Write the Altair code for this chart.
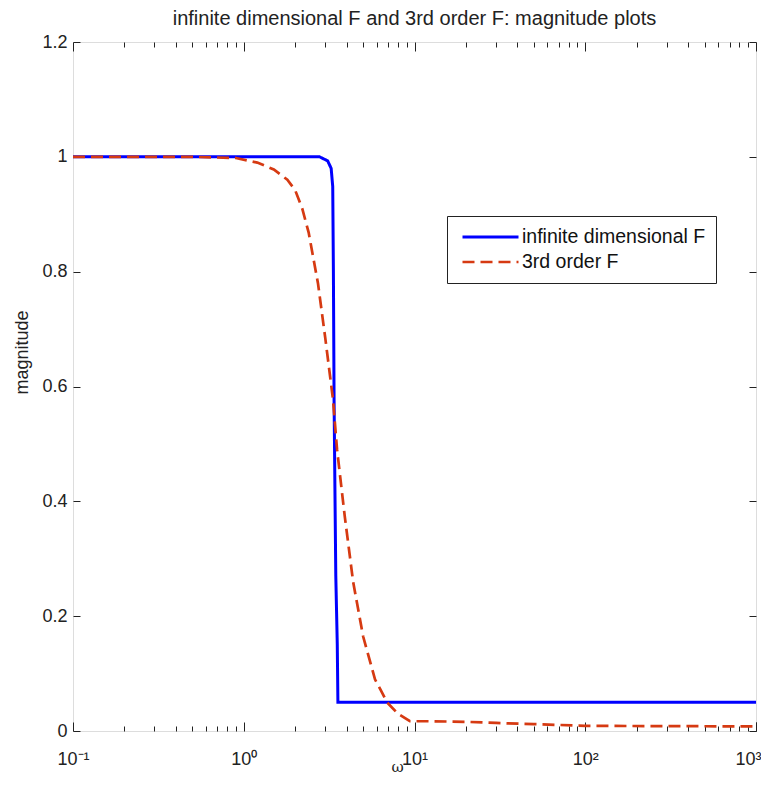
import altair as alt
import pandas as pd

# ---------------- data ----------------
series_names = ["infinite dimensional F", "3rd order F"]

blue_w = [0.1, 1.0, 2.78, 3.1, 3.25, 3.32, 3.35, 3.38, 3.42, 3.46, 3.53, 3.56, 10, 100, 1000]
blue_m = [1.0, 1.0, 1.0, 0.993, 0.98, 0.948, 0.80, 0.58, 0.42, 0.27, 0.15, 0.05, 0.05, 0.05, 0.05]

red_w = [0.1, 0.5, 0.9, 1.2, 1.5, 1.8, 2.0, 2.2, 2.4, 2.72, 3.0, 3.33, 3.52, 3.9, 4.37, 5.0,
         5.87, 6.3, 6.9, 8.0, 9.4, 12, 20, 30, 50, 100, 300, 1000]
red_m = [1.0, 1.0, 0.998, 0.99, 0.978, 0.96, 0.942, 0.91, 0.868, 0.78, 0.685, 0.578, 0.49, 0.375, 0.26, 0.165,
         0.09, 0.073, 0.05, 0.03, 0.017, 0.017, 0.016, 0.014, 0.012, 0.009, 0.0085, 0.008]

x_major = [0.1, 1, 10, 100, 1000]
x_major_labels = ["10⁻¹", "10⁰", "10¹", "10²", "10³"]
x_minor = [m * d for d in [0.1, 1, 10, 100] for m in range(2, 10)]
y_ticks = [0, 0.2, 0.4, 0.6, 0.8, 1.0, 1.2]

title_text = "infinite dimensional F and 3rd order F: magnitude plots"

rows = []
for i, (w, m) in enumerate(zip(blue_w, blue_m)):
    rows.append({"omega": w, "mag": m, "series": series_names[0], "idx": i})
for i, (w, m) in enumerate(zip(red_w, red_m)):
    rows.append({"omega": w, "mag": m, "series": series_names[1], "idx": i})
df = pd.DataFrame(rows)

# ---------------- style ----------------
FONT = "Liberation Sans, Arial, sans-serif"
INK = "#222222"
BLUE = "#0000FF"
RED = "#D63A12"

xs = alt.Scale(type="log", domain=[0.1, 1000], nice=False)
ys = alt.Scale(domain=[0, 1.2], nice=False, zero=False)

# all but the last decade label are centred on their tick; the last one is drawn flush right
label_expr = "datum.value < 0.5 ? '%s' : datum.value < 5 ? '%s' : datum.value < 50 ? '%s' : datum.value < 500 ? '%s' : ''" % tuple(x_major_labels[:4])
last_label_expr = "'%s'" % x_major_labels[4]

common = dict(domain=False, grid=False, tickColor=INK, tickWidth=1)
lab = dict(labelFont=FONT, labelFontSize=18, labelColor=INK, labelOverlap=False,
           labelBaseline="top", labelPadding=19)

ax_bottom_major = alt.Axis(orient="bottom", values=x_major, labelExpr=label_expr, offset=-9, tickSize=9,
                           labelFlush=False,
                           title="ω", titleFont="DejaVu Serif", titleFontSize=15, titleFontWeight="normal",
                           titleColor=INK, titleX=324, titleY=49, titleBaseline="alphabetic", **lab, **common)
ax_bottom_last = alt.Axis(orient="bottom", values=x_major[-1:], labelExpr=last_label_expr, offset=-9, tickSize=9,
                          labelFlush=True, labelFlushOffset=5, title=None, **lab, **common)
ax_bottom_minor = alt.Axis(orient="bottom", values=x_minor, labels=False, offset=-5, tickSize=5, title=None, **common)
ax_top_major = alt.Axis(orient="top", values=x_major, labels=False, offset=-9, tickSize=9, title=None, **common)
ax_top_minor = alt.Axis(orient="top", values=x_minor, labels=False, offset=-5, tickSize=5, title=None, **common)

ax_left = alt.Axis(orient="left", values=y_ticks, format="~g", offset=-7, tickSize=7, labelPadding=6,
                   labelFont=FONT, labelFontSize=18, labelColor=INK, labelFlush=False, labelOverlap=False,
                   title="magnitude", titleFont=FONT, titleFontSize=18, titleFontWeight="normal", titleColor=INK,
                   titleX=-58, titleY=310, titleAngle=270, titleAlign="center", titleBaseline="middle", **common)
ax_right = alt.Axis(orient="right", values=y_ticks, labels=False, offset=-7, tickSize=7, title=None, **common)

legend = alt.Legend(orient="none", legendX=374, legendY=174, title=None, symbolType="stroke",
                    symbolSize=3136, symbolStrokeWidth=2.5, labelFont=FONT, labelFontSize=19.5,
                    labelColor="#111111", labelLimit=400, strokeColor=INK, fillColor="white", padding=10,
                    clipHeight=22, rowPadding=3, labelOffset=2, symbolOffset=4, cornerRadius=0)

base = alt.Chart(df)

main = base.mark_line().encode(
    x=alt.X("omega:Q", scale=xs, axis=ax_bottom_major),
    y=alt.Y("mag:Q", scale=ys, axis=ax_left),
    color=alt.Color("series:N", scale=alt.Scale(domain=series_names, range=[BLUE, RED]), legend=legend,
                    sort=series_names),
    strokeDash=alt.StrokeDash("series:N", scale=alt.Scale(domain=series_names, range=[[1, 0], [12, 6]]),
                              legend=legend, sort=series_names),
    strokeWidth=alt.StrokeWidth("series:N", scale=alt.Scale(domain=series_names, range=[3, 2.7]), legend=None),
    order=alt.Order("idx:Q"),
)

def ghost(xaxis, yaxis):
    return base.mark_line(strokeOpacity=0).encode(
        x=alt.X("omega:Q", scale=xs, axis=xaxis),
        y=alt.Y("mag:Q", scale=ys, axis=yaxis),
        detail="series:N",
        order=alt.Order("idx:Q"),
    )

chart = alt.layer(
    main,
    ghost(ax_bottom_minor, ax_right),
    ghost(ax_top_major, None),
    ghost(ax_top_minor, None),
    ghost(ax_bottom_last, None),
).resolve_axis(x="independent", y="independent").properties(
    width=683, height=689,
    title=alt.TitleParams(text=title_text, font=FONT, fontSize=20, fontWeight="normal", color=INK,
                          anchor="middle", offset=4),
    autosize=alt.AutoSizeParams(type="none"),
    padding={"left": 65, "top": 34, "right": 5, "bottom": 43},
).configure_view(stroke=INK, strokeWidth=1.2).configure(background="white")

chart.save("out.html", embed_options={"renderer": "svg", "actions": False})
